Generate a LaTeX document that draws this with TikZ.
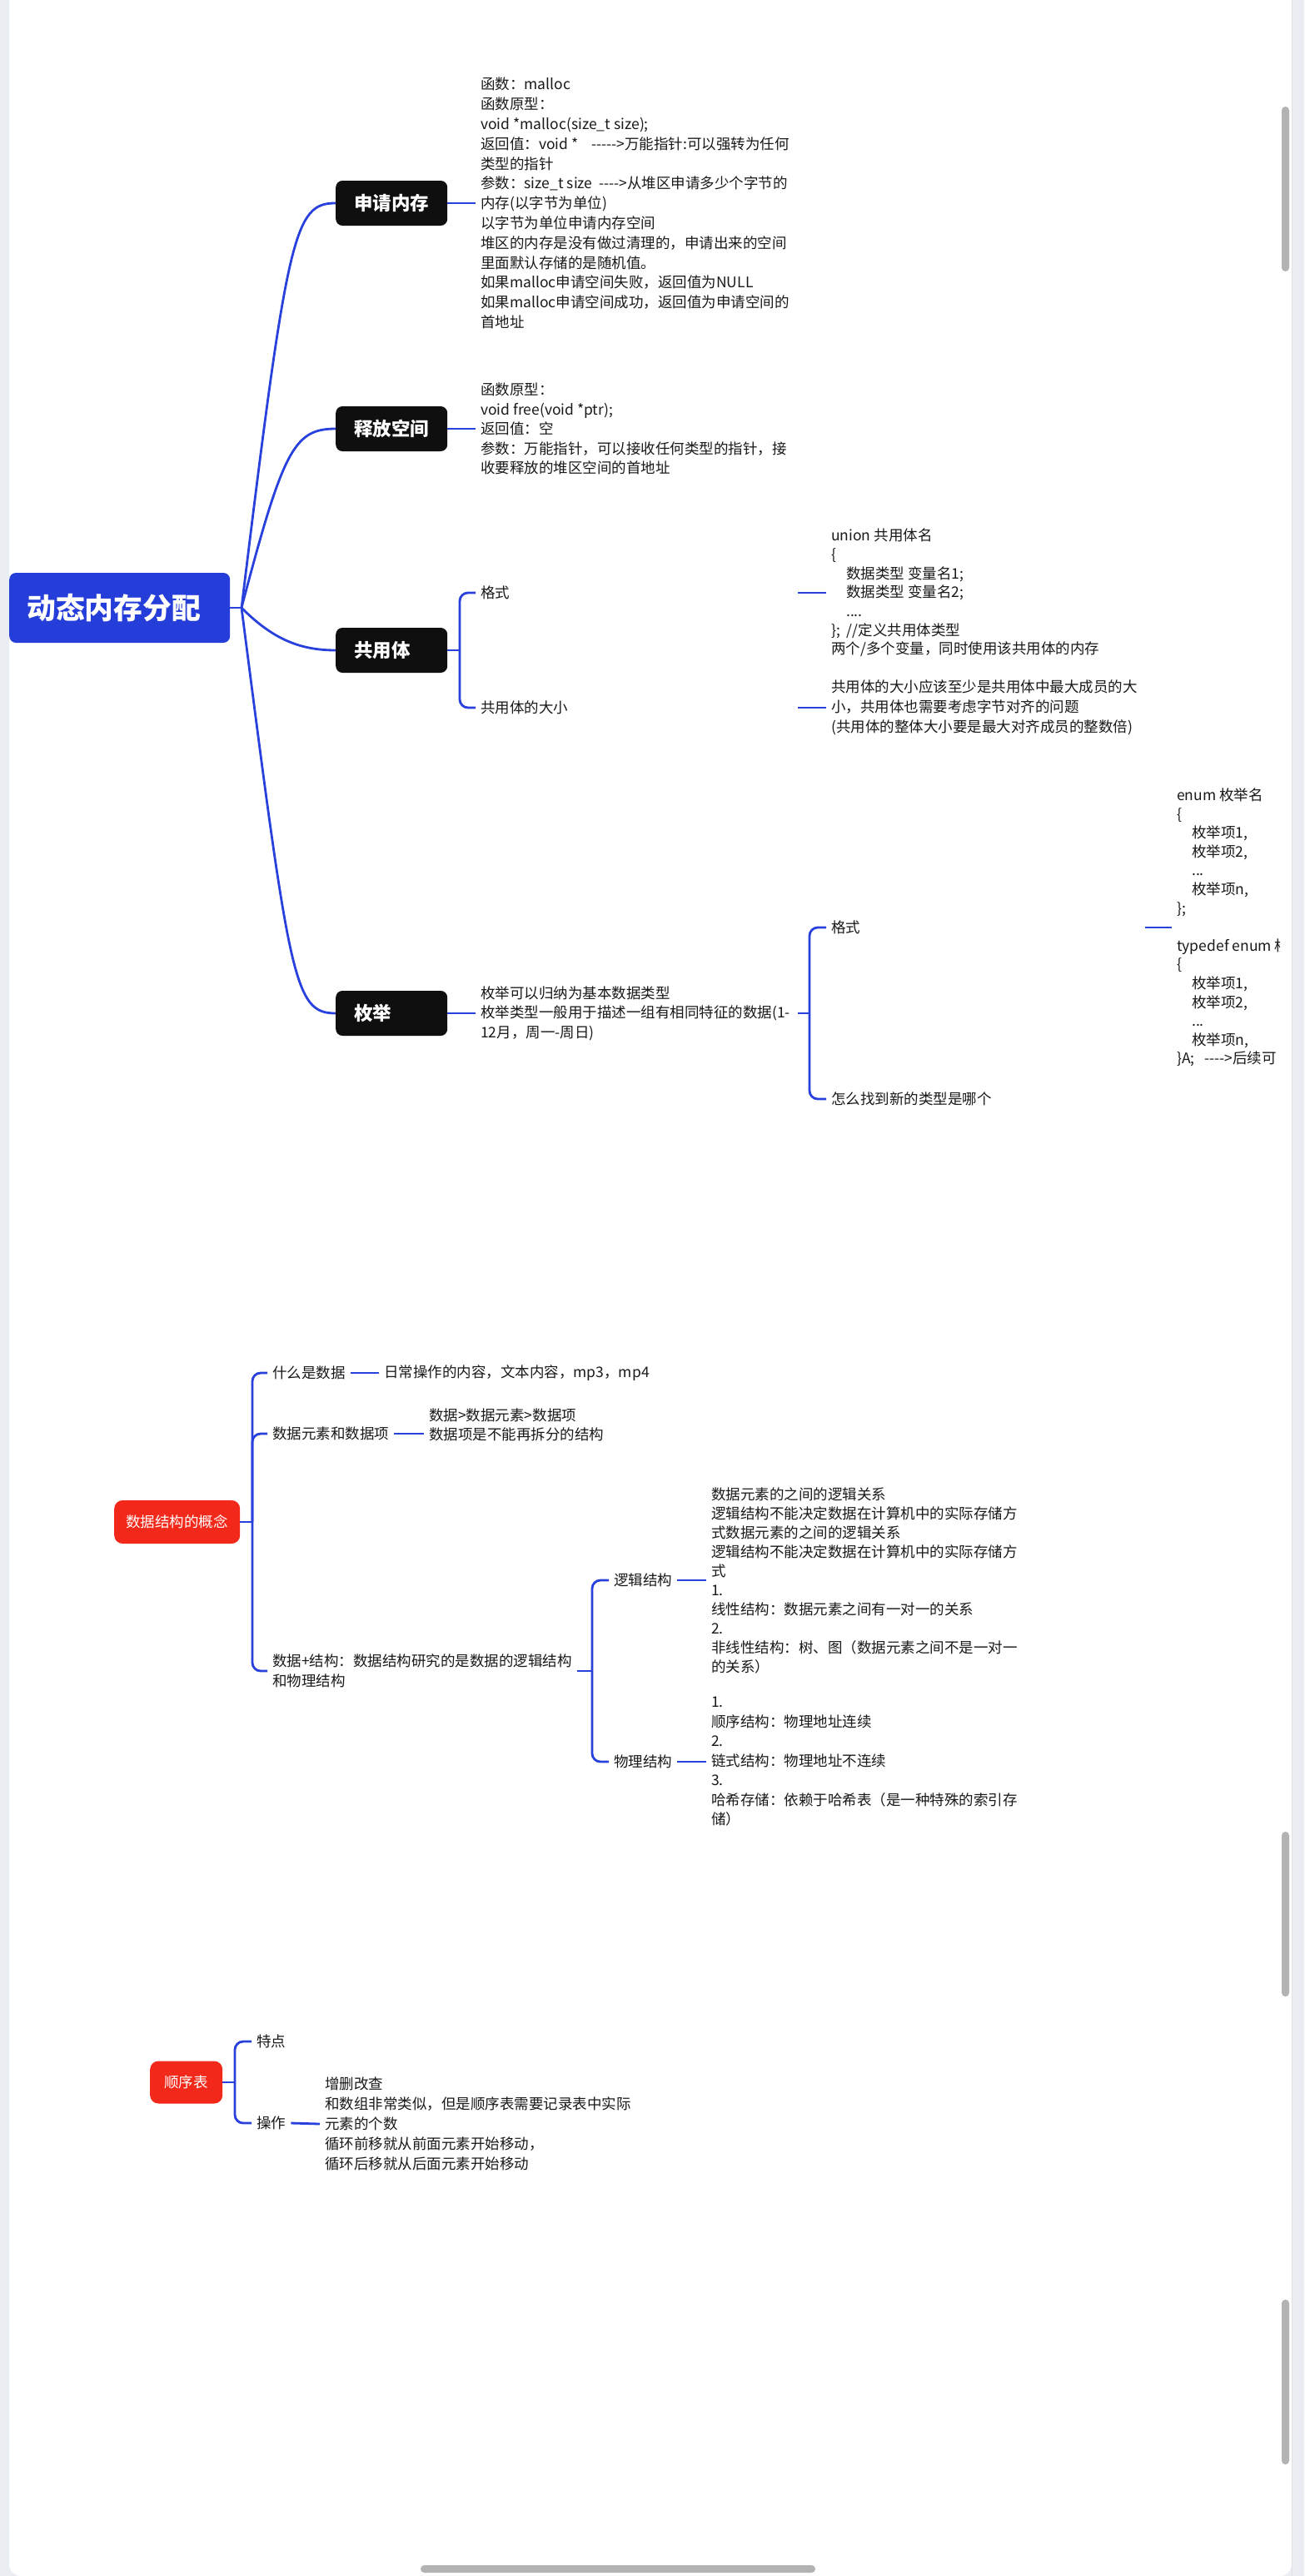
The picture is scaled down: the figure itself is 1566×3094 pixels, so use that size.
\documentclass[tikz,border=0pt]{standalone}
\usepackage{fontspec}
\setmainfont{Noto Sans CJK SC}[Ligatures=TeXOff]
\usetikzlibrary{calc}
\definecolor{bggrey}{RGB}{234,238,242}
\definecolor{edgegrey}{RGB}{221,226,232}
\definecolor{thumb}{RGB}{179,179,179}
\definecolor{lineblue}{RGB}{40,64,220}
\definecolor{rootblue}{RGB}{38,62,217}
\definecolor{boxblack}{RGB}{15,15,15}
\definecolor{redbox}{RGB}{242,41,26}
\definecolor{txt}{RGB}{25,25,25}
\tikzset{
  conn/.style={draw=lineblue, line width=2.8pt},
  bar/.style={conn, rounded corners=10pt},
  rootbox/.style={fill=rootblue, text=white, rounded corners=8pt,
    font={\fontsize{34.8}{40}\bfseries\selectfont}, text width=223pt, align=left,
    inner xsep=21pt, inner ysep=0pt, minimum height=84pt, anchor=west},
  topic/.style={fill=boxblack, text=white, rounded corners=8pt,
    font={\fontsize{22.5}{27}\bfseries\selectfont}, text width=90pt, align=left,
    inner xsep=22pt, inner ysep=0pt, minimum height=54pt, anchor=west},
  redtopic/.style={fill=redbox, text=white, rounded corners=10pt,
    font={\fontsize{17.5}{22}\selectfont}, inner sep=0pt, anchor=west},
  leaf/.style={text=txt, align=left, anchor=west, inner xsep=6pt, inner ysep=0pt},
  lf/.style={font={\fontsize{17.5}{#1}\selectfont}},
}
\begin{document}
\begin{tikzpicture}[x=1pt,y=-1pt]
\useasboundingbox (0,0) rectangle (1566,3094);
% background
\fill[bggrey] (0,0) rectangle (1566,3094);
\fill[white, rounded corners=14pt] (11,-40) rectangle (1551,3094);
\draw[edgegrey, line width=1pt] (1551.5,0) -- (1551.5,3094);
\fill[thumb, rounded corners=4.5pt] (1539,128) rectangle (1548,326);
\fill[thumb, rounded corners=4.5pt] (1539,2200) rectangle (1548,2398);
\fill[thumb, rounded corners=4.5pt] (1539,2762) rectangle (1548,2960);
\fill[thumb, rounded corners=4.5pt] (505,3081) rectangle (979,3090);

% ===== map 1: 动态内存分配 =====
\node[rootbox] (root) at (11,730) {动态内存分配};
\coordinate (rj) at (290,730);
\draw[conn] (root.east) -- (rj);

\node[topic] (t1) at (403,244) {申请内存};
\node[topic] (t2) at (403,515) {释放空间};
\node[topic] (t3) at (403,781) {共用体};
\node[topic] (t4) at (403,1217) {枚举};

\draw[conn] (rj) .. controls +(55,-450) and +(-50,0) .. (t1.west);
\draw[conn] (rj) .. controls +(50,-190) and +(-50,0) .. (t2.west);
\draw[conn] (rj) .. controls +(36,36) and +(-45,0) .. (t3.west);
\draw[conn] (rj) .. controls +(58,450) and +(-50,0) .. (t4.west);

\node[leaf, lf=23.8] (t1a) at (571,244) {函数：malloc\\函数原型：\\void *malloc(size\_t size);\\返回值：void *\ \ \ \ ----->万能指针:可以强转为任何\\类型的指针\\参数：size\_t size\ \ ---->从堆区申请多少个字节的\\内存(以字节为单位)\\以字节为单位申请内存空间\\堆区的内存是没有做过清理的，申请出来的空间\\里面默认存储的是随机值。\\如果malloc申请空间失败，返回值为NULL\\如果malloc申请空间成功，返回值为申请空间的\\首地址};
\draw[conn] (t1.east) -- (t1a.west);

\node[leaf, lf=23.5] (t2a) at (571,515) {函数原型：\\void free(void *ptr);\\返回值：空\\参数：万能指针，可以接收任何类型的指针，接\\收要释放的堆区空间的首地址};
\draw[conn] (t2.east) -- (t2a.west);

% 共用体
\coordinate (t3j) at (552,781);
\draw[conn] (t3.east) -- (t3j);
\node[leaf, lf=24, text width=375pt] (u1) at (571,712) {格式};
\node[leaf, lf=24, text width=375pt] (u2) at (571,850) {共用体的大小};
\draw[bar] (t3j) |- (u1.west);
\draw[bar] (t3j) |- (u2.west);
\node[leaf, lf=22.7] (u1a) at (992,712) {union 共用体名\\\{\\\hspace*{18pt}数据类型 变量名1;\\\hspace*{18pt}数据类型 变量名2;\\\hspace*{18pt}....\\\};\ \ //定义共用体类型\\两个/多个变量，同时使用该共用体的内存};
\draw[conn] (u1.east) -- (u1a.west);
\node[leaf, lf=24] (u2a) at (992,850) {共用体的大小应该至少是共用体中最大成员的大\\小，共用体也需要考虑字节对齐的问题\\(共用体的整体大小要是最大对齐成员的整数倍)};
\draw[conn] (u2.east) -- (u2a.west);

% 枚举
\node[leaf, lf=23.3, text width=375pt] (e0) at (571,1217) {枚举可以归纳为基本数据类型\\枚举类型一般用于描述一组有相同特征的数据(1-\\12月，周一-周日)};
\draw[conn] (t4.east) -- (e0.west);
\coordinate (e0j) at (972,1217);
\draw[conn] (e0.east) -- (e0j);
\node[leaf, lf=24, text width=371pt] (e1) at (992,1114) {格式};
\node[leaf, lf=24] (e2) at (992,1320) {怎么找到新的类型是哪个};
\draw[bar] (e0j) |- (e1.west);
\draw[bar] (e0j) |- (e2.west);
\begin{scope}
\clip (0,0) rectangle (1536,3094);
\node[leaf, lf=22.6] (e1a) at (1407,1114) {enum 枚举名\\\{\\\hspace*{18pt}枚举项1,\\\hspace*{18pt}枚举项2,\\\hspace*{18pt}...\\\hspace*{18pt}枚举项n,\\\};\\\mbox{}\\typedef enum 枚举名\\\{\\\hspace*{18pt}枚举项1,\\\hspace*{18pt}枚举项2,\\\hspace*{18pt}...\\\hspace*{18pt}枚举项n,\\\}A;\ \ \ ---->后续可};
\end{scope}
\draw[conn] (e1.east) -- (e1a.west);

% ===== map 2: 数据结构的概念 =====
\node[redtopic, minimum width=151pt, minimum height=52pt] (d0) at (137,1828) {数据结构的概念};
\coordinate (d0j) at (303,1828);
\draw[conn] (d0.east) -- (d0j);
\node[leaf, lf=23] (d1) at (321,1649) {什么是数据};
\node[leaf, lf=23] (d2) at (321,1722) {数据元素和数据项};
\node[leaf, lf=24.5] (d3) at (321,2007) {数据+结构：数据结构研究的是数据的逻辑结构\\和物理结构};
\draw[bar] (d0j) |- (d1.west);
\draw[bar] (d0j) |- (d2.west);
\draw[bar] (d0j) |- (d3.west);

\node[leaf, lf=23] (d1a) at (455,1649) {日常操作的内容，文本内容，mp3，mp4};
\draw[conn] (d1.east) -- (d1a.west);
\node[leaf, lf=23] (d2a) at (509,1711.5) {数据>数据元素>数据项\\数据项是不能再拆分的结构};
\draw[conn] (d2.east) -- (d2.east -| d2a.west);

\coordinate (d3j) at (711,2007);
\draw[conn] (d3.east) -- (d3j);
\node[leaf, lf=23] (d4) at (731,1898) {逻辑结构};
\node[leaf, lf=23] (d5) at (731,2116) {物理结构};
\draw[bar] (d3j) |- (d4.west);
\draw[bar] (d3j) |- (d5.west);
\node[leaf, lf=23] (d4a) at (848,1898) {数据元素的之间的逻辑关系\\逻辑结构不能决定数据在计算机中的实际存储方\\式数据元素的之间的逻辑关系\\逻辑结构不能决定数据在计算机中的实际存储方\\式\\1.\\线性结构：数据元素之间有一对一的关系\\2.\\非线性结构：树、图（数据元素之间不是一对一\\的关系）};
\draw[conn] (d4.east) -- (d4a.west);
\node[leaf, lf=23.5] (d5a) at (848,2116) {1.\\顺序结构：物理地址连续\\2.\\链式结构：物理地址不连续\\3.\\哈希存储：依赖于哈希表（是一种特殊的索引存\\储）};
\draw[conn] (d5.east) -- (d5a.west);

% ===== map 3: 顺序表 =====
\node[redtopic, minimum width=87pt, minimum height=51pt] (s0) at (180,2501) {顺序表};
\coordinate (s0j) at (282,2501);
\draw[conn] (s0.east) -- (s0j);
\node[leaf, lf=24] (s1) at (302,2452) {特点};
\node[leaf, lf=24] (s2) at (302,2550) {操作};
\draw[bar] (s0j) |- (s1.west);
\draw[bar] (s0j) |- (s2.west);
\node[leaf, lf=24] (s2a) at (384,2551) {增删改查\\和数组非常类似，但是顺序表需要记录表中实际\\元素的个数\\循环前移就从前面元素开始移动，\\循环后移就从后面元素开始移动};
\draw[conn] (s2.east) -- (s2a.west);
\end{tikzpicture}
\end{document}
